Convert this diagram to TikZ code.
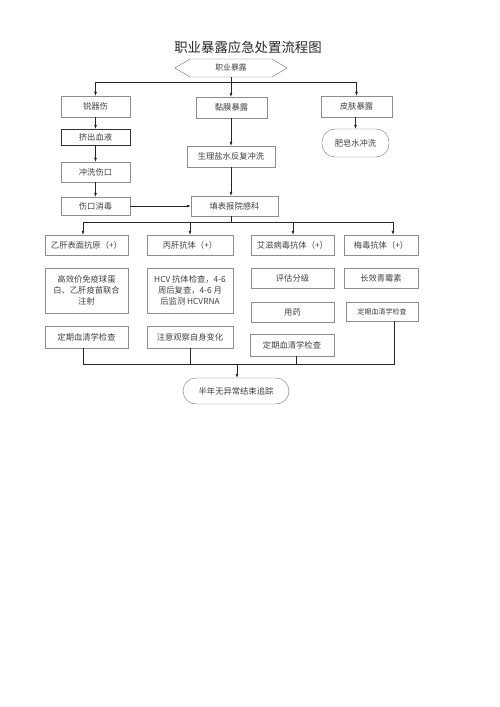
\documentclass[tikz,border=0pt]{standalone}
\usepackage{fontspec}
\newfontfamily\cjk{Noto Sans CJK SC}
\usetikzlibrary{arrows.meta, shapes, shapes.symbols, calc}
\tikzset{
    arr/.style={-{Latex[length=4pt,width=3pt]}, black!85, semithick},
    lin/.style={black!85, semithick}
}
\begin{document}
\begin{tikzpicture}[x=1pt, y=-1pt]
    \useasboundingbox (0,0) rectangle (500,707);
    \tikzstyle{every node}=[font=\cjk\fontsize{8.3}{11}\selectfont, text=black!75, inner sep=1pt, align=center];
    \tikzstyle{box}=[draw=black!45, rectangle];
    \tikzstyle{term}=[draw=black!55, rectangle, rounded corners=13pt];
    \node[font=\cjk\fontsize{13.4}{15}\selectfont, text=black!85] (title) at (248,47) {职业暴露应急处置流程图};
    \node[draw=black!60, signal, signal to=west and east, signal pointer angle=62,
          minimum width=112pt, minimum height=18pt, font=\cjk\fontsize{7.8}{9}\selectfont] (start) at (231,68) {职业暴露};
    % three kinds of exposure
    \node[box, minimum width=69pt, minimum height=21pt] (sharp) at (95.5,106.5) {锐器伤};
    \node[box, minimum width=71pt, minimum height=21pt] (mucosa) at (231.5,107.5) {黏膜暴露};
    \node[box, minimum width=71pt, minimum height=21pt] (skin) at (356.5,106.5) {皮肤暴露};
    \node[term, minimum width=67pt, minimum height=28pt] (soap) at (355.5,143) {肥皂水冲洗};
    \node[draw=black!80, minimum width=69pt, minimum height=16pt] (squeeze) at (95.5,137) {挤出血液};
    \node[box, minimum width=69pt, minimum height=20pt] (rinse) at (95.5,172) {冲洗伤口};
    \node[box, minimum width=69pt, minimum height=18pt] (disinf) at (95.5,206) {伤口消毒};
    \node[box, minimum width=88pt, minimum height=21pt] (saline) at (231,156.5) {生理盐水反复冲洗};
    \node[box, minimum width=87pt, minimum height=20pt] (report) at (234.5,206) {填表报院感科};
    % four columns
    \node[box, minimum width=83pt, minimum height=20pt] (hbv1) at (86.5,245) {乙肝表面抗原（+）};
    \node[box, minimum width=86pt, minimum height=20pt] (hcv1) at (190,245) {丙肝抗体（+）};
    \node[box, minimum width=83pt, minimum height=20pt] (hiv1) at (292.5,245) {艾滋病毒抗体（+）};
    \node[box, minimum width=74pt, minimum height=20pt] (syp1) at (381,245) {梅毒抗体（+）};
    \node[box, minimum width=83pt, minimum height=45pt] (hbv2) at (86.5,290.5) {高效价免疫球蛋\\白、乙肝疫苗联合\\注射};
    \node[box, minimum width=86pt, minimum height=45pt] (hcv2) at (190,290.5) {HCV 抗体检查，4-6\\周后复查，4-6 月\\后监测 HCVRNA};
    \node[box, minimum width=83pt, minimum height=20pt] (hiv2) at (292.5,278) {评估分级};
    \node[box, minimum width=74pt, minimum height=20pt] (syp2) at (381,278) {长效青霉素};
    \node[box, minimum width=83pt, minimum height=22pt] (hbv3) at (86.5,337) {定期血清学检查};
    \node[box, minimum width=86pt, minimum height=22pt] (hcv3) at (190,337) {注意观察自身变化};
    \node[box, minimum width=83pt, minimum height=20pt] (hiv3) at (292.5,312) {用药};
    \node[box, minimum width=72pt, minimum height=19pt, font=\cjk\fontsize{7}{8}\selectfont] (syp3) at (382,311.5) {定期血清学检查};
    \node[box, minimum width=84pt, minimum height=22pt] (hiv4) at (292,345) {定期血清学检查};
    \node[term, minimum width=106pt, minimum height=26pt] (finish) at (236,391) {半年无异常结束追踪};
    \coordinate (j1) at (231,82);
    \coordinate (j2) at (231,222);
    \coordinate (c1) at (83,222);
    \coordinate (c2) at (190,222);
    \coordinate (c3) at (293,222);
    \coordinate (c4) at (393,222);
    \coordinate (d1) at (83,364);
    \coordinate (d3) at (296,364);
    \coordinate (d4) at (394,364);
    \coordinate (dm) at (237,364);
    \draw[arr] (start.south) -- (start.south |- mucosa.north);
    \draw[arr] (j1) -| (sharp.north);
    \draw[arr] (j1) -| (skin.north);
    \draw[arr] (sharp) -- (squeeze);
    \draw[arr] (squeeze) -- (rinse);
    \draw[arr] (rinse) -- (disinf);
    \draw[arr] (disinf) -- (report);
    \draw[arr] (mucosa.south -| saline.north) -- (saline.north);
    \draw[arr] (saline) -- (saline.south |- report.north);
    \draw[arr] (skin.south -| soap.north) -- (soap.north);
    \draw[lin] (report.south -| j2) -- (j2);
    \draw[lin] (c1) -- (c4);
    \draw[arr] (c1) -- (c1 |- hbv1.north);
    \draw[arr] (c2) -- (c2 |- hcv1.north);
    \draw[arr] (c3) -- (c3 |- hiv1.north);
    \draw[arr] (c4) -- (c4 |- syp1.north);
    \draw[lin] (hbv3.south -| d1) -- (d1) -- (d4) -- (syp3.south -| d4);
    \draw[lin] (hcv3.south) -- (hcv3.south |- d1);
    \draw[lin] (hiv4.south -| d3) -- (d3);
    \draw[arr] (dm) -- (dm |- finish.north);
\end{tikzpicture}
\end{document}
